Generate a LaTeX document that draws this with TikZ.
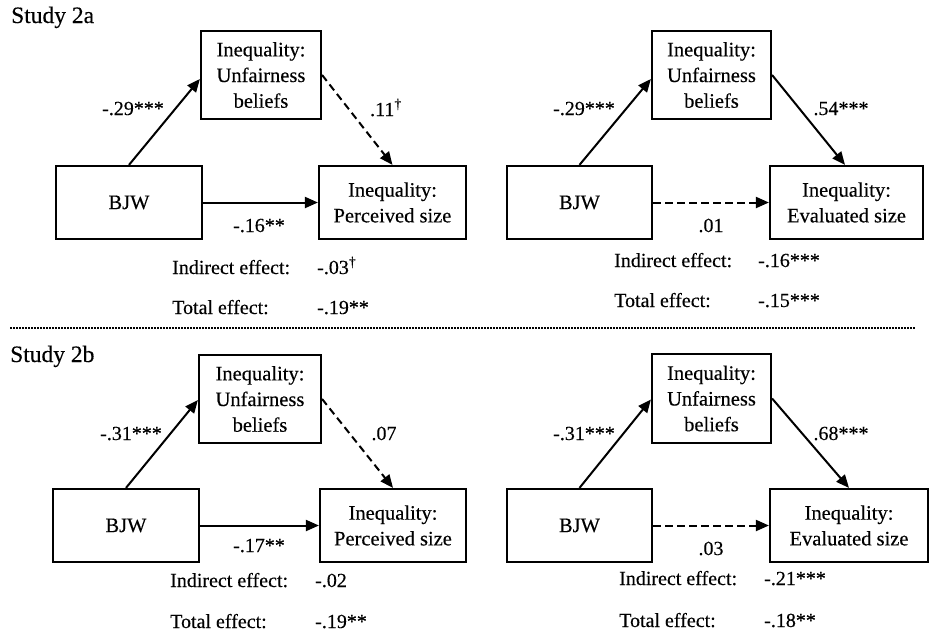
\documentclass[tikz,border=0pt]{standalone}
\usepackage{fontspec}
\setmainfont{Liberation Serif}[FakeBold=0.3]
\usetikzlibrary{arrows.meta}
\tikzset{
  box/.style={draw, line width=2.2pt, inner sep=0pt, align=center, font=\fontsize{20.5}{25.7}\selectfont},
  medbox/.style={box, minimum width=120pt, minimum height=88pt},
  bjwbox/.style={box, minimum width=146pt, minimum height=73pt},
  outbox/.style={box, minimum height=73pt},
  lbl/.style={anchor=base, inner sep=0pt, font=\fontsize{20}{24}\selectfont},
  eff/.style={anchor=base west, inner sep=0pt, font=\fontsize{20}{24}\selectfont},
  study/.style={anchor=base west, inner sep=0pt, font=\fontsize{23.5}{28}\selectfont},
  conn/.style={line width=2pt, -{Triangle[length=13pt,width=11pt]}},
  dashconn/.style={conn, dash pattern=on 7.5pt off 4.5pt},
}
\newcommand{\dg}{\textsuperscript{\textdagger}}
\begin{document}
\begin{tikzpicture}[x=1pt,y=-1pt]
\useasboundingbox (0,0) rectangle (935,638);

% ---------- Study 2a ----------
\node[study] (s2a) at (11,23) {Study 2a};

% top-left
\node[medbox] (m1) at (261,75) {Inequality:\\Unfairness\\beliefs};
\node[bjwbox] (b1) at (129,202.5) {BJW};
\node[outbox, minimum width=147pt] (o1) at (392.5,202.5) {Inequality:\\Perceived size};
\draw[conn] (b1.north) -- ([yshift=-4pt]m1.west);
\draw[dashconn] (m1.east) -- (o1.north);
\draw[conn] (b1.east) -- (o1.west);
\node[lbl] (l1a) at (133,115) {-.29***};
\node[lbl] (l1b) at (386,116) {.11\dg};
\node[lbl] (l1c) at (259,232) {-.16**};
\node[eff] (i1) at (172,274) {Indirect effect:};
\node[eff] (i1v) at (317,274) {-.03\dg};
\node[eff] (t1) at (172,314) {Total effect:};
\node[eff] (t1v) at (317,314) {-.19**};

% top-right
\node[medbox, minimum width=119pt] (m2) at (711.5,75) {Inequality:\\Unfairness\\beliefs};
\node[bjwbox, minimum width=145pt] (b2) at (579.5,202.5) {BJW};
\node[outbox, minimum width=153pt] (o2) at (846.5,202.5) {Inequality:\\Evaluated size};
\draw[conn] (b2.north) -- ([yshift=-4pt]m2.west);
\draw[conn] (m2.east) -- ([xshift=-1.5pt]o2.north);
\draw[dashconn] (b2.east) -- (o2.west);
\node[lbl] (l2a) at (584,115) {-.29***};
\node[lbl] (l2b) at (841,115) {.54***};
\node[lbl] (l2c) at (711,232) {.01};
\node[eff] (i2) at (614,267) {Indirect effect:};
\node[eff] (i2v) at (758,267) {-.16***};
\node[eff] (t2) at (614,307) {Total effect:};
\node[eff] (t2v) at (758,307) {-.15***};

% separator
\coordinate (dl) at (10,328);
\coordinate (dr) at (915,328);
\draw[line width=2pt, dash pattern=on 1.6pt off 1.4pt] (dl) -- (dr);

% ---------- Study 2b ----------
\node[study] (s2b) at (10,362) {Study 2b};

% bottom-left
\node[medbox, minimum width=122pt] (m3) at (260,399) {Inequality:\\Unfairness\\beliefs};
\node[bjwbox] (b3) at (126,525.5) {BJW};
\node[outbox, minimum width=146pt] (o3) at (393,525.5) {Inequality:\\Perceived size};
\draw[conn] (b3.north) -- ([yshift=-1pt]m3.west);
\draw[dashconn] (m3.east) -- (o3.north);
\draw[conn] (b3.east) -- (o3.west);
\node[lbl] (l3a) at (131,440) {-.31***};
\node[lbl] (l3b) at (384,440) {.07};
\node[lbl] (l3c) at (259,552) {-.17**};
\node[eff] (i3) at (170,587) {Indirect effect:};
\node[eff] (i3v) at (315,587) {-.02};
\node[eff] (t3) at (170,628) {Total effect:};
\node[eff] (t3v) at (315,628) {-.19**};

% bottom-right
\node[medbox, minimum width=119pt, minimum height=89pt] (m4) at (711.5,398.5) {Inequality:\\Unfairness\\beliefs};
\node[bjwbox, minimum width=145pt] (b4) at (579.5,525.5) {BJW};
\node[outbox, minimum width=158pt] (o4) at (849,525.5) {Inequality:\\Evaluated size};
\draw[conn] (b4.north) -- ([yshift=-1pt]m4.west);
\draw[conn] (m4.east) -- (o4.north);
\draw[dashconn] (b4.east) -- (o4.west);
\node[lbl] (l4a) at (584,440) {-.31***};
\node[lbl] (l4b) at (841,440) {.68***};
\node[lbl] (l4c) at (711,555) {.03};
\node[eff] (i4) at (619,585) {Indirect effect:};
\node[eff] (i4v) at (764,585) {-.21***};
\node[eff] (t4) at (619,627) {Total effect:};
\node[eff] (t4v) at (764,627) {-.18**};
\end{tikzpicture}
\end{document}
